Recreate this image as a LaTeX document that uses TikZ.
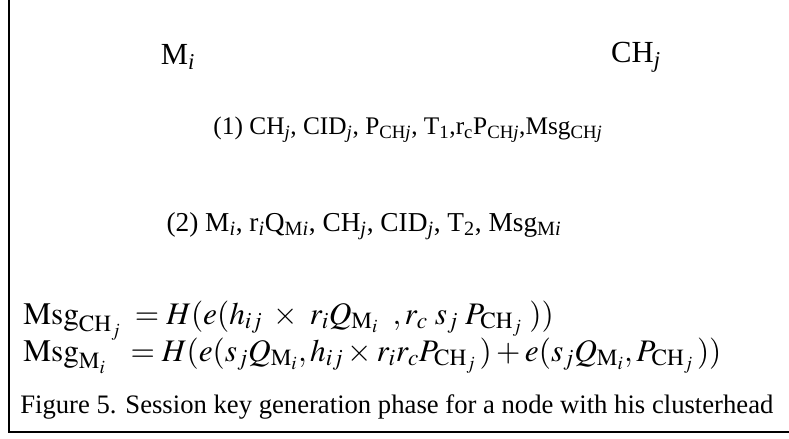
\documentclass[tikz,border=0pt]{standalone}
\usepackage{mathptmx}
\usepackage{fontspec}
\setmainfont{Liberation Serif}
\usetikzlibrary{positioning}
\tikzset{
  party/.style={inner sep=0pt, font=\fontsize{23}{27}\selectfont},
  msgline/.style={inner sep=0pt, font=\fontsize{19}{23}\selectfont},
  eqline/.style={inner sep=0pt, anchor=base west, font=\fontsize{23.5}{28}\selectfont},
  capline/.style={inner sep=0pt, anchor=base west, font=\fontsize{20}{24}\selectfont},
  frame/.style={line width=1.5pt, draw=black}
}
\newcommand{\sbi}[1]{\textsubscript{\textit{#1}}}
\newcommand{\gap}{\mkern4mu}

\begin{document}
\begin{tikzpicture}[x=0.75pt, y=-0.75pt]
\useasboundingbox (0,0) rectangle (789,439);

\node[party] (mi) at (178,57) {M\sbi{i}};
\node[party] (chj) at (636,57) {CH\sbi{j}};

\node[msgline] (msg1) at (408,130) {(1) CH\sbi{j}, CID\sbi{j}, P\textsubscript{CH\textit{j}}, T\textsubscript{1},r\textsubscript{c}P\textsubscript{CH\textit{j}},Msg\textsubscript{CH\textit{j}}};
\node[msgline, font=\fontsize{20.5}{24}\selectfont] (msg2) at (364,226) {(2) M\sbi{i}, r\sbi{i}Q\textsubscript{M\textit{i}}, CH\sbi{j}, CID\sbi{j}, T\textsubscript{2}, Msg\textsubscript{M\textit{i}}};

\node[eqline] (eq1) at (23,324) {$\mathrm{Msg}_{\mathrm{CH}_j}\gap = H(e(h_{ij}\gap\times\gap r_iQ_{\mathrm{M}_i}\gap\gap, r_c\gap s_j\gap P_{\mathrm{CH}_j}\gap))$};
\node[eqline] (eq2) at (23,361) {$\mathrm{Msg}_{\mathrm{M}_i}\mkern10mu = H(e(s_jQ_{\mathrm{M}_i}, h_{ij}\times r_i r_c P_{\mathrm{CH}_j}\,) + e(s_jQ_{\mathrm{M}_i}, P_{\mathrm{CH}_j}\,))$};
\node[capline] (cap) at (20,413) {Figure 5. Session key generation phase for a node with his clusterhead};

% frame of the figure
\draw[frame] (9,0) -- (9,432) -- (789,432);

\end{tikzpicture}
\end{document}
